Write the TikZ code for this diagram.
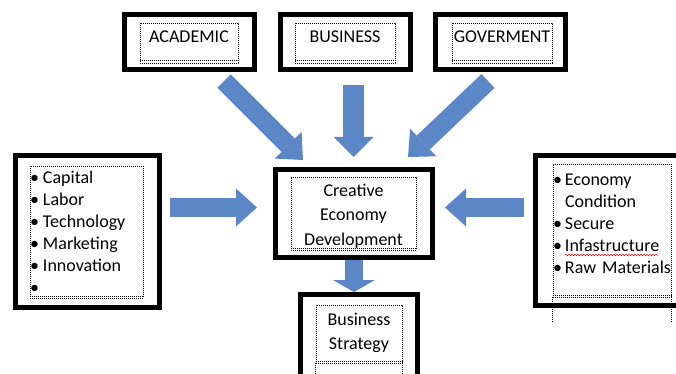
\documentclass[tikz,border=0pt]{standalone}
\usepackage{fontspec}
\setmainfont{Carlito}
\usetikzlibrary{arrows.meta,decorations.pathmorphing}
\definecolor{pfeil}{RGB}{92,135,198}

\begin{document}
\begin{tikzpicture}[x=1pt, y=-1pt,
                    font=\fontsize{18}{22}\selectfont,
                    frame/.style = {
                      draw, line width=5pt,
                      inner sep=0pt
                    },
                    dots/.style = {
                      draw, line width=0.8pt,
                      dash pattern=on 0.8pt off 1.2pt
                    },
                    inbox/.style = {
                      dots, inner sep=0pt,
                      text height=19.7pt, text depth=20.3pt
                    },
                    items/.style = {
                      dots, inner sep=0pt,
                      align=left
                    },
                    flow/.style = {
                      color=pfeil, line width=19pt,
                      -{Triangle[width=38pt, length=21pt, line width=0pt]}
                    }]
    \useasboundingbox (0,0) rectangle (676,374);

    % top row
    \node(academicbox)[frame, minimum width=130pt, minimum height=55pt] at (189.5,42) {};
    \node(academic)[inbox, minimum width=98pt] at (189,43) {ACADEMIC};
    \node(businessbox)[frame, minimum width=130pt, minimum height=55pt] at (345.5,42) {};
    \node(business)[inbox, minimum width=100pt] at (345,43) {BUSINESS};
    \node(govbox)[frame, minimum width=130pt, minimum height=55pt] at (500.5,42) {};
    \node(gov)[inbox, minimum width=100pt] at (502,43) {GOVERMENT};

    % middle row
    \node(inputbox)[frame, minimum width=144.5pt, minimum height=152pt] at (87.25,231.5) {};
    \node(input)[items, text width=113pt, text height=17pt, text depth=115pt] at (86.5,232)
      {\makebox[13pt][l]{•}Capital\\
       \makebox[13pt][l]{•}Labor\\
       \makebox[13pt][l]{•}Technology\\
       \makebox[13pt][l]{•}Marketing\\
       \makebox[13pt][l]{•}Innovation\\
       \makebox[13pt][l]{•}};
    \node(creativebox)[frame, minimum width=157pt, minimum height=88pt] at (354,213.5) {};
    \node(creative)[dots, inner sep=0pt, align=center, text width=125pt,
                    text height=19.7pt, text depth=53.3pt,
                    font=\fontsize{18}{24.2}\selectfont] at (353.5,213.5)
      {Creative\\ Economy\\ Development};
    \node(conditionbox)[frame, minimum width=164.5pt, minimum height=150pt] at (617.75,230.5) {};
    \node(condition)[items, text width=118pt, text height=21pt, text depth=112pt] at (612,230.5)
      {\makebox[12pt][l]{•}Economy\\
       \hspace*{12pt}Condition\\
       \makebox[12pt][l]{•}Secure\\
       \makebox[12pt][l]{•}Infastructure\\
       \makebox[12pt][l]{•}Raw Materials};

    % bottom
    \node(strategybox)[frame, minimum width=117pt, minimum height=106pt] at (359,347) {};
    \node(strategy)[dots, inner sep=0pt, align=center, text width=86pt,
                    text height=20pt, text depth=38pt,
                    font=\fontsize{18}{24}\selectfont] at (359,334)
      {Business\\ Strategy};

    % double lines and open sides of the dotted boxes
    \foreach \n in {academic, business, gov, input, creative, condition, strategy}
      \draw[dots] ([yshift=2.5pt]\n.south west) -- ([yshift=2.5pt]\n.south east);
    \draw[dots] (condition.south west) -- ++(0,25);
    \draw[dots] (condition.south east) -- ++(0,25);
    \draw[dots] (strategy.south west) -- ++(0,20);
    \draw[dots] (strategy.south east) -- ++(0,20);

    % spell check mark
    \draw[red, line width=0.5pt, decorate,
          decoration={snake, amplitude=0.7pt, segment length=3pt}]
      (565,255) -- (658,255);

    % arrows
    \coordinate (academicout) at (224,81);
    \coordinate (academicin) at (303,160);
    \coordinate (businessout) at (353.5,85);
    \coordinate (businessin) at (353.5,157);
    \coordinate (govout) at (488,81);
    \coordinate (govin) at (408,157);
    \coordinate (inputout) at (170,207.5);
    \coordinate (inputin) at (257,207.5);
    \coordinate (conditionout) at (524,207.5);
    \coordinate (conditionin) at (445,207.5);
    \coordinate (strategyin) at (354,292);

    \draw[flow] (academicout) -- (academicin);
    \draw[flow] (govout) -- (govin);
    \draw[flow] (inputout) -- (inputin);
    \draw[flow] (conditionout) -- (conditionin);
    \draw[flow, line width=21pt, -{Triangle[width=40pt, length=20pt, line width=0pt]}]
      (businessout) -- (businessin);
    \draw[flow, line width=18pt, -{Triangle[width=42pt, length=12pt, line width=0pt]}]
      (creativebox.south) -- (strategyin);
  \end{tikzpicture}
\end{document}
